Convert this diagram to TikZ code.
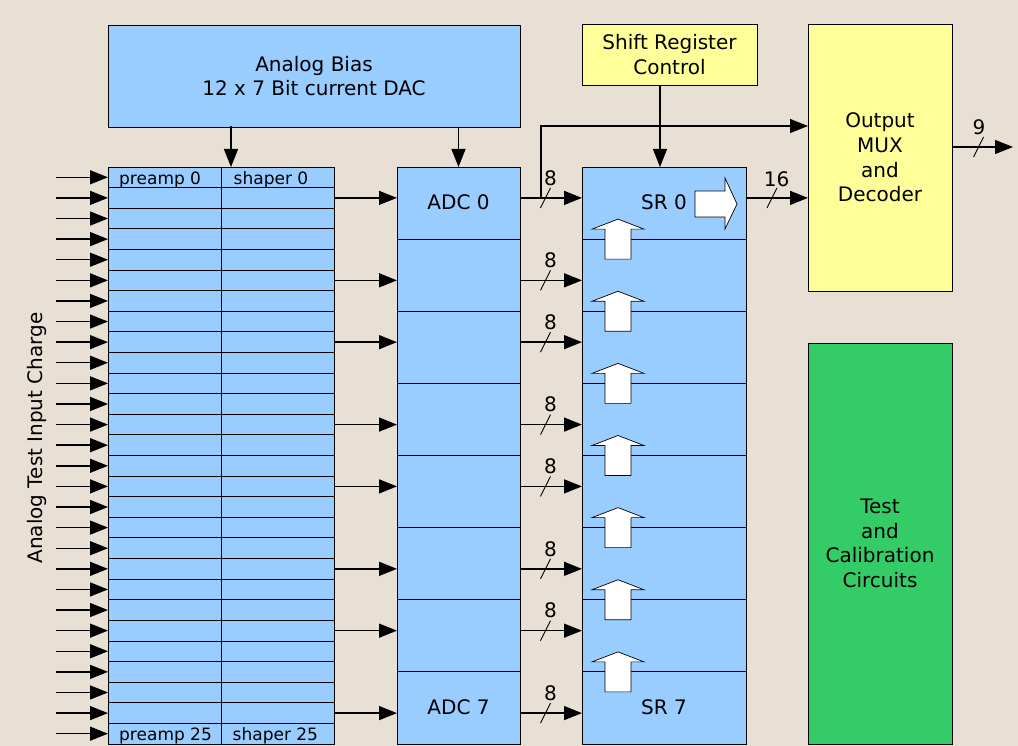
\documentclass[tikz,border=0pt]{standalone}
\usepackage{fontspec}
\setmainfont{DejaVu Sans}
\usetikzlibrary{arrows.meta,calc}
\definecolor{bg}{HTML}{E8E0D5}
\definecolor{lblue}{HTML}{99CCFF}
\definecolor{lyellow}{HTML}{FFFF99}
\definecolor{lgreen}{HTML}{33CC66}
\begin{document}
\begin{tikzpicture}[x=1pt,y=-1pt,
  box/.style={draw=black, line width=0.9pt, inner sep=0pt, outer sep=0pt, align=center,
    font=\fontsize{20}{24.6}\selectfont},
  bluebox/.style={box, fill=lblue},
  yelbox/.style={box, fill=lyellow},
  cell/.style={draw=black, line width=0.9pt, fill=lblue, inner sep=0pt, outer sep=0pt,
    minimum width=113pt, minimum height=20.607pt},
  celltext/.style={font=\fontsize{17}{20}\selectfont, inner sep=0pt, anchor=base west},
  arr/.style={line width=1.4pt, -{Triangle[length=18pt 0 0,width=14pt 0 0]}},
  lbl/.style={font=\fontsize{20}{24}\selectfont, inner sep=0pt},
  slash/.style={line width=0.9pt},
  blk/.style={draw=black, line width=0.7pt, fill=white}]
\useasboundingbox (0,0) rectangle (1018,746);
\fill[bg] (0,0) rectangle (1018,746);

% top boxes
\node[bluebox, minimum width=412pt, minimum height=102pt] (bias) at (314,76) {Analog Bias\\12 x 7 Bit current DAC};
\node[yelbox, minimum width=175pt, minimum height=61pt] (src) at (669.5,54.5) {Shift Register\\Control};
\node[yelbox, minimum width=144pt, minimum height=267pt] (mux) at (880,157.5) {Output\\MUX\\and\\Decoder};
\node[box, fill=lgreen, minimum width=144pt, minimum height=401pt] (test) at (880,543.5) {Test\\and\\Calibration\\Circuits};

% preamp / shaper rows
\foreach \k in {0,...,27}{
  \node[cell] (p\k) at (164.5,{167+(\k+0.5)*20.607}) {};
  \node[cell] (s\k) at (277.5,{167+(\k+0.5)*20.607}) {};
}
\node[celltext] (tp0) at ($(p0.west)+(11,7.2)$) {preamp 0};
\node[celltext] (ts0) at ($(s0.west)+(12.5,7.2)$) {shaper 0};
\node[celltext] (tp27) at ($(p27.west)+(11,7.2)$) {preamp 25};
\node[celltext] (ts27) at ($(s27.west)+(11.5,7.2)$) {shaper 25};

% input arrows
\foreach \k in {0,...,27}{
  \coordinate (in\k) at (56,{167+(\k+0.5)*20.607});
  \draw[arr] (in\k) -- (p\k.west);
}
\node[lbl, rotate=90] (atic) at (37,438) {Analog Test Input Charge};

% ADC and SR rows
\foreach \j in {0,...,7}{
  \node[bluebox, minimum width=123pt, minimum height=72.125pt] (adc\j) at (458.5,{167+(\j+0.5)*72.125}) {};
  \node[bluebox, minimum width=164pt, minimum height=72.125pt] (sr\j) at (664,{167+(\j+0.5)*72.125}) {};
}
\node[lbl] (adct0) at ([yshift=1pt]adc0) {ADC 0};
\node[lbl] (adct7) at ([yshift=1pt]adc7) {ADC 7};
\node[lbl] (srt0) at ([yshift=1pt]sr0) {SR 0};
\node[lbl] (srt7) at ([yshift=1pt]sr7) {SR 7};

% preamp -> ADC -> SR
\foreach \k/\j in {1/0,5/1,8/2,12/3,15/4,19/5,22/6,26/7}{
  \draw[arr] (s\k.east) -- (s\k.east -| adc\j.west);
  \draw[arr] (s\k.east -| adc\j.east) -- (s\k.east -| sr\j.west);
  \coordinate (sl\j) at ($(s\k.east)+(211.5,0)$);
  \draw[slash] ($(sl\j)+(-5,10)$) -- ($(sl\j)+(5,-10)$);
  \node[lbl] (w\j) at ($(sl\j)+(5,-20)$) {8};
}

% bias arrows
\coordinate (bt1) at (231,126);
\draw[arr] (bt1) -- (bt1 |- p0.north);
\draw[arr] (bias.south -| adc0.north) -- (adc0.north);
% shift register control
\coordinate (st) at (660,85);
\draw[arr] (st) -- (st |- sr0.north);
% feedback to MUX
\coordinate (fb) at (541,{167+1.5*20.607});
\coordinate (fbtop) at (541,126);
\draw[arr] (fb) -- (fbtop) -- (fbtop -| mux.west);
% SR0 -> MUX
\coordinate (so) at (746,{167+1.5*20.607});
\draw[arr] (so) -- (so -| mux.west);
\coordinate (sl16) at (772,{167+1.5*20.607});
\draw[slash] ($(sl16)+(-5,10)$) -- ($(sl16)+(5,-10)$);
\node[lbl] (w16) at (776.5,179) {16};
% MUX output
\coordinate (mo) at (952,147);
\coordinate (mend) at (1013,147);
\draw[arr] (mo) -- (mend);
\coordinate (sl9) at (978.5,147);
\draw[slash] ($(sl9)+(-5,10)$) -- ($(sl9)+(5,-10)$);
\node[lbl] (w9) at (979,127) {9};

% block arrows
\foreach \j in {1,...,7}{
  \pgfmathsetmacro{\b}{167+\j*72.125}
  \draw[blk] (605,\b+20) -- (605,\b-10) -- (592,\b-10) -- (618,\b-20) -- (644,\b-10)
     -- (631,\b-10) -- (631,\b+20) -- cycle;
}
\draw[blk] (695,191) -- (725,191) -- (725,178) -- (737,204) -- (725,229) -- (725,217) -- (695,217) -- cycle;
\end{tikzpicture}
\end{document}
